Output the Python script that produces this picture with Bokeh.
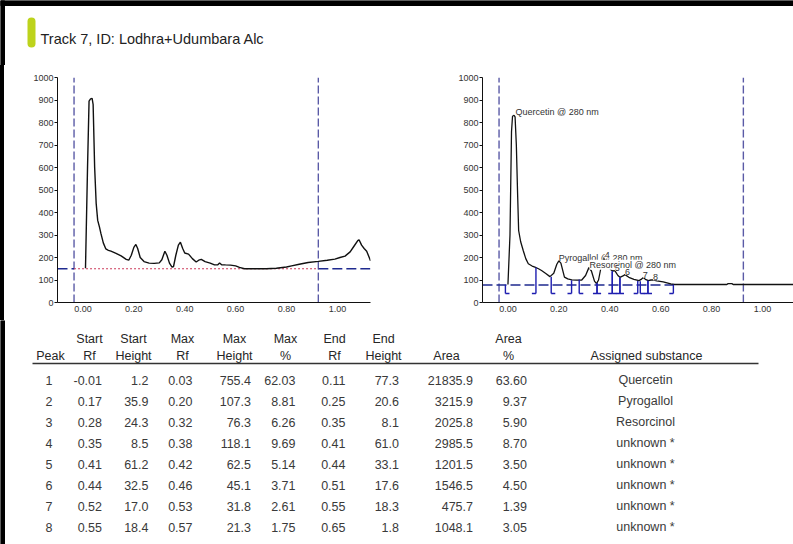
from bokeh.plotting import figure
from bokeh.layouts import column, row
from bokeh.models import FixedTicker, PrintfTickFormatter, Range1d
from bokeh.core.properties import value
from bokeh.embed import file_html
from bokeh.resources import INLINE

title_text = "Track 7, ID: Lodhra+Udumbara Alc"

# Raw densitogram of the track (AU vs Rf)
raw_rf = [0.010, 0.018, 0.024, 0.030, 0.036, 0.040, 0.046, 0.052, 0.058, 0.065, 0.071,
          0.080, 0.090, 0.100, 0.110, 0.130, 0.150, 0.170, 0.180, 0.190, 0.200, 0.208,
          0.215, 0.225, 0.240, 0.260, 0.280, 0.300, 0.310, 0.322, 0.330, 0.340, 0.350,
          0.356, 0.365, 0.375, 0.383, 0.392, 0.400, 0.415, 0.430, 0.445, 0.455, 0.465,
          0.480, 0.500, 0.517, 0.530, 0.537, 0.545, 0.560, 0.580, 0.600, 0.615, 0.635,
          0.680, 0.720, 0.760, 0.800, 0.820, 0.850, 0.885, 0.925, 0.960, 0.990, 1.010,
          1.030, 1.050, 1.065, 1.080, 1.085, 1.095, 1.105, 1.115, 1.125, 1.130]
raw_au = [152, 600, 895, 905, 907, 880, 600, 440, 365, 335, 305,
          265, 238, 232, 228, 218, 207, 192, 188, 210, 245, 258,
          240, 200, 182, 175, 174, 176, 190, 228, 210, 175, 157,
          160, 210, 255, 268, 240, 220, 215, 195, 180, 188, 192,
          182, 175, 167, 168, 176, 168, 167, 166, 163, 156, 150,
          150, 150, 152, 158, 163, 170, 178, 183, 188, 193, 200,
          206, 225, 250, 275, 279, 255, 240, 228, 200, 185]

# Baseline-corrected densitogram with integrated peaks
corr_rf = [0.000, 0.008, 0.014, 0.018, 0.024, 0.028, 0.033, 0.038, 0.042, 0.050, 0.060,
           0.070, 0.080, 0.095, 0.106, 0.120, 0.132, 0.150, 0.165, 0.180, 0.192, 0.200,
           0.208, 0.222, 0.235, 0.251, 0.270, 0.290, 0.305, 0.318, 0.328, 0.340, 0.348,
           0.356, 0.368, 0.378, 0.392, 0.405, 0.412, 0.420, 0.432, 0.440, 0.452, 0.460,
           0.475, 0.495, 0.515, 0.525, 0.532, 0.540, 0.552, 0.562, 0.570, 0.585, 0.610,
           0.640, 0.655, 0.700, 0.860, 0.865, 0.880, 0.885, 1.122]
corr_au = [80, 300, 760, 828, 832, 825, 700, 480, 320, 270, 231,
           195, 172, 162, 157, 150, 142, 128, 115, 130, 170, 185,
           175, 113, 105, 101, 99, 100, 120, 155, 140, 95, 84,
           100, 170, 196, 160, 145, 140, 142, 120, 112, 118, 124,
           112, 103, 97, 104, 111, 103, 97, 100, 101, 96, 92,
           83, 80, 80, 80, 84, 84, 80, 80]

raw_baseline = 150
corr_baseline = 78
application_rf = -0.035
front_rf = 0.925

# Peak table
peak_no = [1, 2, 3, 4, 5, 6, 7, 8]
start_rf = [-0.01, 0.17, 0.28, 0.35, 0.41, 0.44, 0.52, 0.55]
start_height = [1.2, 35.9, 24.3, 8.5, 61.2, 32.5, 17.0, 18.4]
max_rf = [0.03, 0.20, 0.32, 0.38, 0.42, 0.46, 0.53, 0.57]
max_height = [755.4, 107.3, 76.3, 118.1, 62.5, 45.1, 31.8, 21.3]
max_pct = [62.03, 8.81, 6.26, 9.69, 5.14, 3.71, 2.61, 1.75]
end_rf = [0.11, 0.25, 0.35, 0.41, 0.44, 0.51, 0.55, 0.65]
end_height = [77.3, 20.6, 8.1, 61.0, 33.1, 17.6, 18.3, 1.8]
area = [21835.9, 3215.9, 2025.8, 2985.5, 1201.5, 1546.5, 475.7, 1048.1]
area_pct = [63.60, 9.37, 5.90, 8.70, 3.50, 4.50, 1.39, 3.05]
substance = ["Quercetin", "Pyrogallol", "Resorcinol", "unknown *", "unknown *",
             "unknown *", "unknown *", "unknown *"]
peak_label = ["Quercetin @ 280 nm", "Pyrogallol @ 280 nm", "Resorcinol @ 280 nm",
              "4", "5", "6", "7", "8"]

x_ticks = [0.0, 0.2, 0.4, 0.6, 0.8, 1.0]
y_ticks = [0, 100, 200, 300, 400, 500, 600, 700, 800, 900, 1000]

FONT_NAME = "Liberation Sans"
FONT = value(FONT_NAME)
TEXT_GREY = "#333333"
DASH_BLUE = "#5a5aa6"
BASE_BLUE = "#1f2a8f"
MARK_BLUE = "#1e1eb0"
CHART_H = 255


def chart(width, border_left, frame_w, x_end):
    p = figure(width=width, height=CHART_H, x_range=Range1d(-0.10, x_end),
               y_range=Range1d(0, 1000), output_backend="svg", toolbar_location=None,
               min_border_left=border_left, min_border_right=width - border_left - frame_w,
               min_border_top=12, min_border_bottom=18)
    p.grid.visible = False
    p.outline_line_color = None
    for ax in (p.xaxis, p.yaxis):
        ax.axis_line_color = "#111111"
        ax.minor_tick_line_color = None
        ax.major_label_text_font = FONT_NAME
        ax.major_label_text_font_size = "9px"
        ax.major_label_text_color = TEXT_GREY
        ax.major_tick_line_color = "#111111"
    p.xaxis.ticker = FixedTicker(ticks=x_ticks)
    p.xaxis.formatter = PrintfTickFormatter(format="%.2f")
    p.xaxis.major_tick_out = 0
    p.xaxis.major_tick_in = 0
    p.xaxis.major_label_standoff = 3
    p.yaxis.ticker = FixedTicker(ticks=y_ticks)
    p.yaxis.major_tick_out = 3
    p.yaxis.major_tick_in = 0
    p.yaxis.major_label_standoff = 1
    # application position and solvent front
    p.segment(x0=[application_rf, front_rf], y0=[0, 0], x1=[application_rf, front_rf],
              y1=[1000, 1000], line_color=DASH_BLUE, line_width=1.4, line_dash="8 3")
    return p


# ---- left: raw scan ----
left = chart(396, 53, 313, 1.13)
left.segment(x0=[-0.10, front_rf], y0=[raw_baseline, raw_baseline],
             x1=[application_rf, 1.13], y1=[raw_baseline, raw_baseline],
             line_color=BASE_BLUE, line_width=1.4, line_dash="10 4")
left.segment(x0=[application_rf], y0=[raw_baseline], x1=[front_rf], y1=[raw_baseline],
             line_color="#cc3a5a", line_width=1.2, line_dash="2 2")
left.line(raw_rf, raw_au, line_color="#111111", line_width=1.4)

# ---- right: corrected scan with peak integration ----
right = chart(393, 82, 311, 1.122)
right.segment(x0=[-0.10], y0=[corr_baseline], x1=[end_rf[-1]], y1=[corr_baseline],
              line_color=BASE_BLUE, line_width=1.4, line_dash="10 4")
right.line(corr_rf, corr_au, line_color="#111111", line_width=1.3)

mark_bottom = corr_baseline - 38
tick_len = 0.016
vx, vy0, vy1 = [], [], []
hx0, hx1 = [], []
for s, sh, e, eh in zip(start_rf, start_height, end_rf, end_height):
    vx += [s, e]
    vy0 += [corr_baseline + sh, corr_baseline + eh]
    vy1 += [mark_bottom, mark_bottom]
    hx0 += [s, e]
    hx1 += [s + tick_len, e - tick_len]
right.segment(x0=vx, y0=vy0, x1=vx, y1=vy1, line_color=MARK_BLUE, line_width=1.4)
right.segment(x0=hx0, y0=[mark_bottom] * len(hx0), x1=hx1, y1=[mark_bottom] * len(hx0),
              line_color=MARK_BLUE, line_width=1.4)

label_y = [corr_baseline + h for h in max_height]
right.text(x=max_rf[:2], y=label_y[:2], text=peak_label[:2], text_font=FONT,
           text_font_size="9px", text_color=TEXT_GREY, text_baseline="alphabetic",
           y_offset=-3)
right.text(x=max_rf[2:], y=label_y[2:], text=peak_label[2:], text_font=FONT,
           text_font_size="9px", text_color=TEXT_GREY, text_baseline="alphabetic",
           y_offset=-3, background_fill_color="white")

# ---- title strip ----
W = 793
top = figure(width=W, height=65, x_range=Range1d(0, W), y_range=Range1d(65, 0),
             x_axis_type=None, y_axis_type=None, min_border=0, output_backend="svg",
             toolbar_location=None, outline_line_color=None)
top.grid.visible = False
top.quad(left=[0, 0], right=[W, 4], top=[0, 0], bottom=[5, 65], color="black")
top.segment(x0=[31], y0=[21], x1=[31], y1=[43], line_color="#bdd31c", line_width=8,
            line_cap="round")
top.text(x=[40], y=[38.5], text=[title_text], text_font=FONT, text_font_size="14.5px",
         text_color="#222222", text_baseline="alphabetic")

# ---- peak table ----
tab = figure(width=W, height=224, x_range=Range1d(0, W), y_range=Range1d(544, 320),
             x_axis_type=None, y_axis_type=None, min_border=0, output_backend="svg",
             toolbar_location=None, outline_line_color=None)
tab.grid.visible = False
tab.quad(left=[0], right=[4], top=[320], bottom=[544], color="black")

head1 = ["Start", "Start", "Max", "Max", "Max", "End", "End", "Area"]
head1_x = [89, 133, 182, 234, 285, 334, 383, 508]
head2 = ["Peak", "Rf", "Height", "Rf", "Height", "%", "Rf", "Height", "Area", "%",
         "Assigned substance"]
head2_x = [50, 89, 133, 182, 234, 285, 334, 383, 446, 508, 646]
tab.text(x=head1_x, y=[338] * len(head1), text=head1, text_font=FONT,
         text_font_size="12.5px", text_color="#262626", text_align="center",
         text_baseline="middle")
tab.text(x=head2_x, y=[355] * len(head2), text=head2, text_font=FONT,
         text_font_size="12.5px", text_color="#262626", text_align="center",
         text_baseline="middle")
tab.segment(x0=[32], y0=[363], x1=[758], y1=[363], line_color="#333333", line_width=1.4)

row_y = [379.5 + 21 * i for i in range(len(peak_no))]
columns = [
    ([str(n) for n in peak_no], 48.5, "center"),
    (["%.2f" % v for v in start_rf], 101.5, "right"),
    (["%.1f" % v for v in start_height], 148, "right"),
    (["%.2f" % v for v in max_rf], 192, "right"),
    (["%.1f" % v for v in max_height], 250.5, "right"),
    (["%.2f" % v for v in max_pct], 295, "right"),
    (["%.2f" % v for v in end_rf], 345, "right"),
    (["%.1f" % v for v in end_height], 398.5, "right"),
    (["%.1f" % v for v in area], 472.5, "right"),
    (["%.2f" % v for v in area_pct], 526.5, "right"),
    (substance, 645, "center"),
]
for texts, xpos, align in columns:
    tab.text(x=[xpos] * len(texts), y=row_y, text=texts, text_font=FONT,
             text_font_size="12.5px", text_color="#3a3a3a", text_align=align,
             text_baseline="middle")

# the chart row carries the black page edge as a CSS border
charts = row(left, right, spacing=0, styles={"border-left": "4px solid black"})
layout = column(top, charts, tab, spacing=0)

open("out.html", "w").write(file_html(layout, INLINE))
